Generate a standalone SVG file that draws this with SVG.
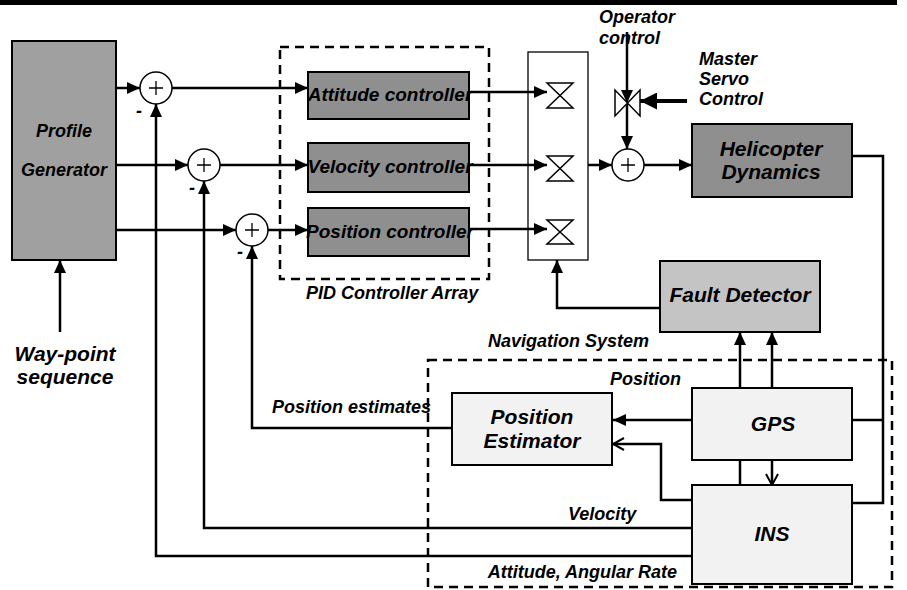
<svg xmlns="http://www.w3.org/2000/svg" width="907" height="590" viewBox="0 0 907 590">
<style>
text{font-family:"Liberation Sans",Arial,sans-serif;font-weight:bold;font-style:italic;fill:#000}
.t18{font-size:18px}.t19{font-size:19px}.t21{font-size:21px}.t20{font-size:20px}
.c{text-anchor:middle}.e{text-anchor:end}
.box{stroke:#000;stroke-width:2}
.dark{fill:#8f8f8f}.mid{fill:#a0a0a0}.light{fill:#f2f2f2}.fd{fill:#c4c4c4}
.ln{fill:none;stroke:#000;stroke-width:2.5}
.thin{fill:none;stroke:#000;stroke-width:1.3}
.dash{fill:none;stroke:#000;stroke-width:2.5;stroke-dasharray:9,6}
.sum{fill:#fff;stroke:#000;stroke-width:1.5}
</style>
<defs>
<marker id="ah" markerUnits="userSpaceOnUse" markerWidth="13" markerHeight="12" refX="13" refY="6" orient="auto"><path d="M0,0 L13,6 L0,12 Z" fill="#000"/></marker>
<marker id="ahb" markerUnits="userSpaceOnUse" markerWidth="17" markerHeight="17" refX="17" refY="8.5" orient="auto"><path d="M0,0 L17,8.5 L0,17 Z" fill="#000"/></marker>
<marker id="ao" markerUnits="userSpaceOnUse" markerWidth="13" markerHeight="14" refX="12" refY="7" orient="auto"><path d="M1,1 L12,7 L1,13" fill="none" stroke="#000" stroke-width="2"/></marker>
</defs>
<rect x="0" y="0" width="897" height="5" fill="#000"/>

<g id="groups">
<rect x="280" y="47" width="209" height="232" class="dash"/>
<text x="306" y="299" class="t18">PID Controller Array</text>
<rect x="428" y="360" width="464" height="227" class="dash"/>
<text x="649" y="347" class="t18 e">Navigation System</text>
</g>

<g id="connectors">
<line x1="116" y1="88" x2="140" y2="88" class="ln" marker-end="url(#ah)"/>
<line x1="116" y1="165" x2="188" y2="165" class="ln" marker-end="url(#ah)"/>
<line x1="116" y1="230" x2="236" y2="230" class="ln" marker-end="url(#ah)"/>
<line x1="172" y1="88" x2="308" y2="88" class="ln" marker-end="url(#ah)"/>
<line x1="220" y1="165" x2="308" y2="165" class="ln" marker-end="url(#ah)"/>
<line x1="268" y1="230" x2="308" y2="230" class="ln" marker-end="url(#ah)"/>
<line x1="469" y1="92" x2="547" y2="92" class="ln" marker-end="url(#ah)"/>
<line x1="469" y1="165" x2="547" y2="165" class="ln" marker-end="url(#ah)"/>
<line x1="469" y1="229" x2="547" y2="229" class="ln" marker-end="url(#ah)"/>
<line x1="588" y1="165" x2="612" y2="165" class="ln" marker-end="url(#ah)"/>
<line x1="644" y1="165" x2="692" y2="165" class="ln" marker-end="url(#ah)"/>
<line x1="627" y1="32" x2="627" y2="103" class="ln" marker-end="url(#ah)"/>
<line x1="627" y1="103" x2="627" y2="149" class="ln" marker-end="url(#ah)"/>
<line x1="687" y1="101" x2="640" y2="101" stroke="#000" stroke-width="4" marker-end="url(#ahb)"/>
<polyline points="852,156 883,156 883,503 852,503" class="ln"/>
<line x1="883" y1="420" x2="852" y2="420" class="ln"/>
<polyline points="660,308 557,308 557,260" class="ln" stroke-width="3" marker-end="url(#ah)"/>
<line x1="740" y1="485" x2="740" y2="332" class="ln" marker-end="url(#ah)"/>
<line x1="772" y1="388" x2="772" y2="332" class="ln" marker-end="url(#ah)"/>
<line x1="772" y1="460" x2="772" y2="485" class="ln" marker-end="url(#ao)"/>
<line x1="692" y1="420" x2="613" y2="420" class="ln" marker-end="url(#ah)"/>
<polyline points="692,500 661,500 661,444 613,444" class="ln" marker-end="url(#ao)"/>
<polyline points="452,428 252,428 252,246" class="ln" marker-end="url(#ah)"/>
<polyline points="692,528 204,528 204,181" class="ln" marker-end="url(#ah)"/>
<polyline points="692,556 156,556 156,104" class="ln" marker-end="url(#ah)"/>
<line x1="60" y1="332" x2="60" y2="260" class="ln" marker-end="url(#ah)"/>
</g>

<g id="profile-generator">
<rect x="12" y="41" width="104" height="219" class="box mid"/>
<text x="64" y="137" class="t18 c">Profile</text>
<text x="64" y="176" class="t18 c">Generator</text>
</g>
<g id="waypoint">
<text x="65" y="361" class="t21 c">Way-point</text>
<text x="65" y="384" class="t21 c">sequence</text>
</g>

<g id="sum1"><circle cx="156" cy="88" r="16" class="sum"/><path d="M149,88 H163 M156,81 V95" class="thin"/><text x="139" y="117" class="t18 c">-</text></g>
<g id="sum2"><circle cx="204" cy="165" r="16" class="sum"/><path d="M197,165 H211 M204,158 V172" class="thin"/><text x="192" y="194" class="t18 c">-</text></g>
<g id="sum3"><circle cx="252" cy="230" r="16" class="sum"/><path d="M245,230 H259 M252,223 V237" class="thin"/><text x="240" y="258" class="t18 c">-</text></g>
<g id="sum4"><circle cx="628" cy="165" r="16" class="sum"/><path d="M621,165 H635 M628,158 V172" class="thin"/></g>

<g id="attitude-controller">
<rect x="308" y="72" width="161" height="47" class="box dark"/>
<text x="390" y="101" class="t19 c">Attitude controller</text>
</g>
<g id="velocity-controller">
<rect x="308" y="143" width="161" height="49" class="box dark"/>
<text x="390" y="173" class="t19 c">Velocity controller</text>
</g>
<g id="position-controller">
<rect x="308" y="208" width="161" height="48" class="box dark"/>
<text x="390" y="238" class="t19 c">Position controller</text>
</g>

<g id="switch-array">
<rect x="528" y="52" width="60" height="208" fill="none" stroke="#000" stroke-width="1.3"/>
<path d="M547,83 H573 L547,108 H573 Z" fill="#fff" stroke="#000" stroke-width="1.5"/>
<path d="M547,156 H573 L547,181 H573 Z" fill="#fff" stroke="#000" stroke-width="1.5"/>
<path d="M547,220 H573 L547,244 H573 Z" fill="#fff" stroke="#000" stroke-width="1.5"/>
</g>

<g id="operator-valve">
<path d="M615,90 V116 L640,90 V116 Z" fill="#fff" stroke="#000" stroke-width="1.5"/>
<text x="599" y="23" class="t18">Operator</text>
<text x="599" y="44" class="t18">control</text>
</g>
<g id="master-servo">
<text x="699" y="65" class="t18">Master</text>
<text x="699" y="85" class="t18">Servo</text>
<text x="699" y="105" class="t18">Control</text>
</g>

<g id="helicopter-dynamics">
<rect x="692" y="124" width="160" height="73" class="box dark"/>
<text x="771" y="156" class="t21 c">Helicopter</text>
<text x="771" y="179" class="t21 c">Dynamics</text>
</g>
<g id="fault-detector">
<rect x="660" y="261" width="160" height="71" class="box fd"/>
<text x="740" y="302" class="t21 c">Fault Detector</text>
</g>
<g id="gps">
<rect x="692" y="388" width="160" height="72" class="box light"/>
<text x="773" y="431" class="t21 c">GPS</text>
</g>
<g id="ins">
<rect x="692" y="485" width="160" height="99" class="box light"/>
<text x="772" y="541" class="t21 c">INS</text>
</g>
<g id="position-estimator">
<rect x="452" y="393" width="160" height="72" class="box light"/>
<text x="532" y="424" class="t21 c">Position</text>
<text x="532" y="448" class="t21 c">Estimator</text>
</g>

<g id="labels">
<text x="610" y="385" class="t18">Position</text>
<text x="272" y="413" class="t18">Position estimates</text>
<text x="568" y="520" class="t18">Velocity</text>
<text x="677" y="578" class="t18 e">Attitude, Angular Rate</text>
</g>
</svg>
